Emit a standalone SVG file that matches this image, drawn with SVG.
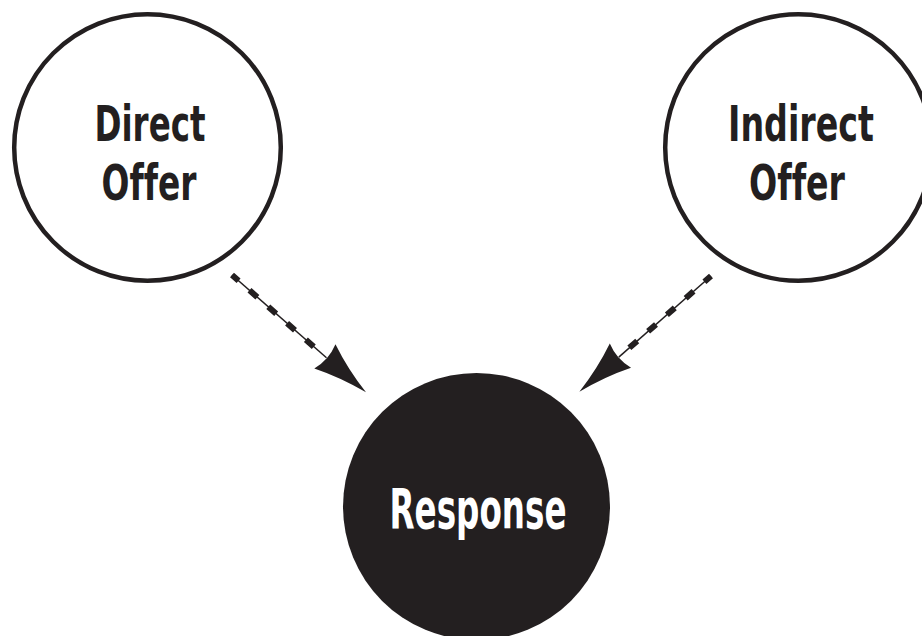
<svg xmlns="http://www.w3.org/2000/svg" width="922" height="636" viewBox="0 0 922 636">
<style>
.ring{fill:#ffffff;stroke:#231f20;stroke-width:4.5}
.solid{fill:#231f20}
.lbl{font-family:"Liberation Sans Narrow","DejaVu Sans Condensed","Liberation Sans",sans-serif;font-weight:bold;text-anchor:middle;font-variant-ligatures:none;font-feature-settings:"liga" 0}
.dark{fill:#231f20}
.light{fill:#ffffff}
.thin{stroke:#231f20;stroke-width:1.5;fill:none}
.dash{stroke:#231f20;stroke-width:6;fill:none;stroke-dasharray:10.5 14.5;stroke-dashoffset:1.75}
</style>
<defs>
<marker id="head" markerUnits="userSpaceOnUse" orient="auto" refX="2" refY="0" markerWidth="60" markerHeight="40" viewBox="-2 -18 56 36" overflow="visible">
<path d="M0,-15 Q24,-5 51,0 Q24,5 0,15 Q5,0 0,-15 Z" fill="#231f20"/>
</marker>
</defs>
<rect width="922" height="636" fill="#ffffff"/>
<g id="direct-offer">
<circle class="ring" cx="147.5" cy="147.5" r="133.3"/>
<text class="lbl dark" x="150" y="141" font-size="50" textLength="111" lengthAdjust="spacingAndGlyphs">Direct</text>
<text class="lbl dark" x="149" y="200" font-size="50" textLength="95" lengthAdjust="spacingAndGlyphs">Offer</text>
</g>
<g id="indirect-offer">
<circle class="ring" cx="798.5" cy="147.5" r="133.3"/>
<text class="lbl dark" x="801" y="141" font-size="50" textLength="146" lengthAdjust="spacingAndGlyphs">Indirect</text>
<text class="lbl dark" x="797" y="200" font-size="50" textLength="96" lengthAdjust="spacingAndGlyphs">Offer</text>
</g>
<g id="response">
<circle class="solid" cx="476.5" cy="506.5" r="133.5"/>
<text class="lbl light" x="478" y="528" font-size="56" textLength="177" lengthAdjust="spacingAndGlyphs">Response</text>
</g>
<g id="connectors">
<line class="thin" x1="232" y1="275" x2="326.5" y2="357.7" marker-end="url(#head)"/>
<line class="dash" x1="232" y1="275" x2="316.2" y2="348.8"/>
<line class="thin" x1="711" y1="276" x2="618.8" y2="357.1" marker-end="url(#head)"/>
<line class="dash" x1="711" y1="276" x2="626.9" y2="350"/>
</g>
</svg>
